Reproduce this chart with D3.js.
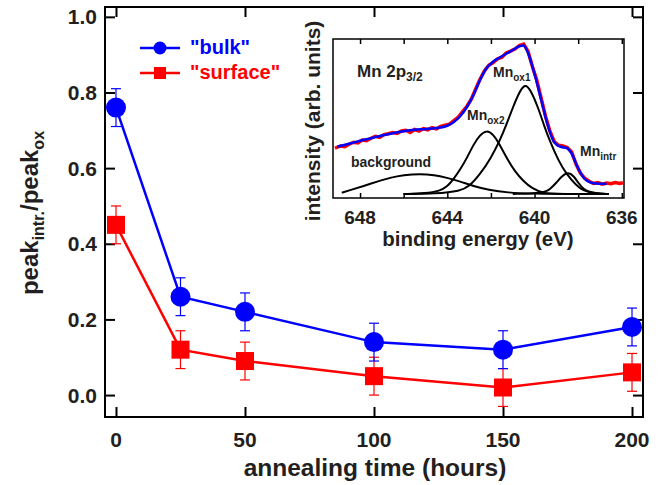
<!DOCTYPE html>
<html>
<head>
<meta charset="utf-8">
<script src="https://cdn.jsdelivr.net/npm/d3@7"></script>
<style>
  body { margin: 0; background: #fff; }
  text { font-family: "Liberation Sans", Arial, sans-serif; font-weight: bold; fill: #231f20; }
</style>
</head>
<body>
<svg id="chart" width="666" height="485"></svg>
<script>
// main plot data
const hours = [0, 25, 50, 100, 150, 200]
const bulk = [0.76, 0.26, 0.22, 0.14, 0.12, 0.18]
const bulkErr = [0.05, 0.05, 0.05, 0.05, 0.05, 0.05]
const surface = [0.45, 0.12, 0.09, 0.05, 0.02, 0.06]
const surfaceErr = [0.05, 0.05, 0.05, 0.05, 0.05, 0.05]
const xTicks = [0, 50, 100, 150, 200]
const yTicks = [0.0, 0.2, 0.4, 0.6, 0.8, 1.0]

// inset: Mn 2p3/2 spectrum, [binding energy, intensity]
const spectrumData = [[649.15,0.305],[648.9,0.32],[648.7,0.316],[648.5,0.332],[648.3,0.345],[648.1,0.34],[647.9,0.36],[647.7,0.356],[647.5,0.372],[647.3,0.385],[647.1,0.378],[646.9,0.396],[646.7,0.402],[646.5,0.41],[646.3,0.404],[646.1,0.42],[645.9,0.425],[645.7,0.41],[645.5,0.43],[645.3,0.42],[645.1,0.436],[644.9,0.428],[644.7,0.442],[644.5,0.434],[644.3,0.45],[644.1,0.458],[643.9,0.466],[643.7,0.49],[643.5,0.512],[643.3,0.55],[643.1,0.585],[642.9,0.632],[642.7,0.7],[642.5,0.765],[642.3,0.82],[642.1,0.858],[641.9,0.876],[641.7,0.9],[641.5,0.912],[641.3,0.94],[641.1,0.952],[640.9,0.966],[640.7,0.99],[640.5,1.0],[640.3,0.952],[640.1,0.85],[639.9,0.76],[639.7,0.64],[639.5,0.52],[639.3,0.42],[639.1,0.35],[638.9,0.325],[638.7,0.32],[638.5,0.31],[638.3,0.28],[638.1,0.2],[637.9,0.14],[637.7,0.105],[637.5,0.085],[637.3,0.07],[637.1,0.076],[636.9,0.065],[636.7,0.073],[636.5,0.068],[636.3,0.076],[636.1,0.07],[635.95,0.075]]
const fitData = [[649.05,0.315],[648.5,0.335],[648.0,0.355],[647.5,0.372],[647.0,0.39],[646.5,0.405],[646.0,0.418],[645.5,0.428],[645.0,0.433],[644.5,0.44],[644.0,0.455],[643.7,0.48],[643.4,0.52],[643.1,0.58],[642.8,0.66],[642.5,0.76],[642.2,0.84],[641.9,0.882],[641.6,0.91],[641.3,0.935],[641.0,0.96],[640.7,0.985],[640.5,0.99],[640.3,0.94],[640.0,0.8],[639.7,0.63],[639.4,0.46],[639.1,0.345],[638.8,0.315],[638.5,0.305],[638.3,0.27],[638.0,0.17],[637.7,0.1],[637.4,0.075],[637.0,0.068],[636.7,0.068]]
const ox1Data = [[646.0,0],[644.5,0.002],[643.4,0.02],[643.0,0.05],[642.5,0.131],[642.0,0.24],[641.6,0.353],[641.3,0.46],[641.0,0.575],[640.7,0.68],[640.44,0.735],[640.2,0.7],[639.83,0.575],[639.55,0.45],[639.3,0.353],[638.9,0.22],[638.53,0.131],[638.1,0.06],[637.77,0.02],[637.2,0.004],[636.6,0]]
const ox2Data = [[646.0,0],[645.0,0.004],[644.34,0.02],[644.0,0.05],[643.72,0.098],[643.4,0.165],[643.1,0.24],[642.8,0.33],[642.5,0.395],[642.2,0.425],[641.9,0.4],[641.6,0.33],[641.28,0.24],[640.9,0.15],[640.52,0.087],[640.1,0.035],[639.6,0.005],[639.0,0],[636.6,0]]
const intrData = [[641.0,0],[639.6,0.005],[639.3,0.03],[639.0,0.075],[638.75,0.12],[638.46,0.147],[638.2,0.12],[638.0,0.075],[637.75,0.03],[637.4,0.005],[636.6,0]]
const bgData = [[648.84,0.009],[648.4,0.028],[647.85,0.053],[647.2,0.083],[646.63,0.109],[646.0,0.127],[645.25,0.135],[644.6,0.127],[644.03,0.109],[643.4,0.083],[642.81,0.053],[642.1,0.027],[641.28,0.009],[640.0,0.002],[638.5,0],[636.6,0]]
const insetTicks = [648, 646, 644, 642, 640, 638, 636]
const insetLabels = [648, 644, 640, 636]

const svg = d3.select("#chart")

// ---------- main plot ----------
const x = d3.scaleLinear().domain([-4.26, 204.26]).range([105, 643])
const y = d3.scaleLinear().domain([-0.058, 1.026]).range([417, 7])

svg.append("rect").attr("x", 105).attr("y", 7).attr("width", 538).attr("height", 410)
    .attr("fill", "none").attr("stroke", "#000").attr("stroke-width", 2)

svg.append("g").attr("transform", "translate(0,417)")
    .call(d3.axisBottom(x).tickValues(xTicks).tickSize(-10).tickFormat(""))
svg.append("g").attr("transform", "translate(0,7)")
    .call(d3.axisTop(x).tickValues(xTicks).tickSize(-10).tickFormat(""))
svg.append("g").attr("transform", "translate(105,0)")
    .call(d3.axisLeft(y).tickValues(yTicks).tickSize(-10).tickFormat(""))
svg.append("g").attr("transform", "translate(643,0)")
    .call(d3.axisRight(y).tickValues(yTicks).tickSize(-10).tickFormat(""))
svg.selectAll(".domain").remove()
svg.selectAll(".tick line").attr("stroke", "#000").attr("stroke-width", 2)

svg.selectAll(".xlab").data(xTicks).enter().append("text")
    .attr("x", d => x(d)).attr("y", 447).attr("text-anchor", "middle")
    .style("font-size", "21px").text(d => d)
svg.selectAll(".ylab").data(yTicks).enter().append("text")
    .attr("x", 97).attr("y", d => y(d)).attr("dy", "0.36em").attr("text-anchor", "end")
    .style("font-size", "21px").text(d => d.toFixed(1))

svg.append("text").attr("x", 375).attr("y", 476).attr("text-anchor", "middle")
    .style("font-size", "24.5px").text("annealing time (hours)")

let ylab = svg.append("text").attr("transform", "translate(38,213) rotate(-90)")
    .attr("text-anchor", "middle").style("font-size", "24px")
ylab.append("tspan").text("peak")
ylab.append("tspan").attr("dy", 6).style("font-size", "16px").text("intr.")
ylab.append("tspan").attr("dy", -6).text("/peak")
ylab.append("tspan").attr("dy", 6).style("font-size", "16px").text("ox")

function drawSeries(vals, errs, color, shape) {
    let pts = hours.map((h, i) => ({h: h, v: vals[i], e: errs[i]}))
    let g = svg.append("g")
    // error bars
    pts.forEach(p => {
        g.append("line").attr("x1", x(p.h)).attr("x2", x(p.h))
            .attr("y1", y(p.v - p.e)).attr("y2", y(p.v + p.e))
            .attr("stroke", color).attr("stroke-width", 1.2)
        ;[p.v - p.e, p.v + p.e].forEach(v => {
            g.append("line").attr("x1", x(p.h) - 5).attr("x2", x(p.h) + 5)
                .attr("y1", y(v)).attr("y2", y(v))
                .attr("stroke", color).attr("stroke-width", 1.2)
        })
    })
    g.append("path").datum(pts)
        .attr("d", d3.line().x(d => x(d.h)).y(d => y(d.v)))
        .attr("fill", "none").attr("stroke", color).attr("stroke-width", 2.5)
    if (shape == "circle") {
        g.selectAll("circle").data(pts).enter().append("circle")
            .attr("cx", d => x(d.h)).attr("cy", d => y(d.v)).attr("r", 10).attr("fill", color)
    } else {
        g.selectAll("rect").data(pts).enter().append("rect")
            .attr("x", d => x(d.h) - 9).attr("y", d => y(d.v) - 9)
            .attr("width", 18).attr("height", 18).attr("fill", color)
    }
}
drawSeries(surface, surfaceErr, "#ff0000", "square")
drawSeries(bulk, bulkErr, "#0000ff", "circle")

// legend
const legend = [{name: "\"bulk\"", color: "#0000ff", shape: "circle", y: 48},
                {name: "\"surface\"", color: "#ff0000", shape: "square", y: 73}]
legend.forEach(l => {
    svg.append("line").attr("x1", 140).attr("x2", 180).attr("y1", l.y).attr("y2", l.y)
        .attr("stroke", l.color).attr("stroke-width", 2.5)
    if (l.shape == "circle")
        svg.append("circle").attr("cx", 160).attr("cy", l.y).attr("r", 6.5).attr("fill", l.color)
    else
        svg.append("rect").attr("x", 154).attr("y", l.y - 6).attr("width", 12).attr("height", 12).attr("fill", l.color)
    svg.append("text").attr("x", 190).attr("y", l.y + 6).style("font-size", "20px")
        .style("fill", l.color).text(l.name)
})

// ---------- inset ----------
const ix = d3.scaleLinear().domain([649.24, 635.9]).range([333, 624])
const iy = d3.scaleLinear().domain([0, 1]).range([194, 44])
const iTop = 39, iBot = 198

svg.append("rect").attr("x", 333).attr("y", iTop).attr("width", 291).attr("height", iBot - iTop)
    .attr("fill", "#fff").attr("stroke", "#000").attr("stroke-width", 1.5)

let inset = svg.append("g")
inset.append("g").attr("transform", `translate(0,${iBot})`)
    .call(d3.axisBottom(ix).tickValues(insetTicks).tickSize(-5).tickFormat(""))
inset.append("g").attr("transform", `translate(0,${iTop})`)
    .call(d3.axisTop(ix).tickValues(insetTicks).tickSize(-5).tickFormat(""))
inset.selectAll(".domain").remove()
inset.selectAll(".tick line").attr("stroke", "#000").attr("stroke-width", 1.5)

inset.selectAll(".ilab").data(insetLabels).enter().append("text")
    .attr("x", d => ix(d)).attr("y", 224).attr("text-anchor", "middle")
    .style("font-size", "19px").text(d => d)
inset.append("text").attr("x", 478).attr("y", 246).attr("text-anchor", "middle")
    .style("font-size", "20.5px").text("binding energy (eV)")
inset.append("text").attr("transform", "translate(320,121) rotate(-90)")
    .attr("text-anchor", "middle").style("font-size", "21px").text("intensity (arb. units)")

const iline = d3.line().x(d => ix(d[0])).y(d => iy(d[1])).curve(d3.curveMonotoneX)
const iline2 = d3.line().x(d => ix(d[0])).y(d => iy(d[1])).curve(d3.curveBasis)

;[bgData, ox2Data, ox1Data, intrData].forEach(c => {
    inset.append("path").datum(c).attr("d", iline2)
        .attr("fill", "none").attr("stroke", "#000").attr("stroke-width", 2)
})
inset.append("path").datum(spectrumData).attr("d", d3.line().x(d => ix(d[0])).y(d => iy(d[1])))
    .attr("fill", "none").attr("stroke", "#ff0000").attr("stroke-width", 3.5)
inset.append("path").datum(fitData).attr("d", iline)
    .attr("fill", "none").attr("stroke", "#0000ff").attr("stroke-width", 2.5)

// annotations
inset.append("text").attr("x", 357).attr("y", 77).style("font-size", "17px")
    .call(t => { t.append("tspan").text("Mn 2p"); t.append("tspan").attr("dy", 4).style("font-size", "12px").text("3/2") })
inset.append("text").attr("x", 351).attr("y", 167).style("font-size", "14px").text("background")
function mnLabel(xp, yp, sub) {
    inset.append("text").attr("x", xp).attr("y", yp).style("font-size", "14px")
        .call(t => { t.append("tspan").text("Mn"); t.append("tspan").attr("dy", 4).style("font-size", "10px").text(sub) })
}
mnLabel(493, 77, "ox1")
mnLabel(467, 120, "ox2")
mnLabel(580, 156, "intr")
</script>
</body>
</html>
